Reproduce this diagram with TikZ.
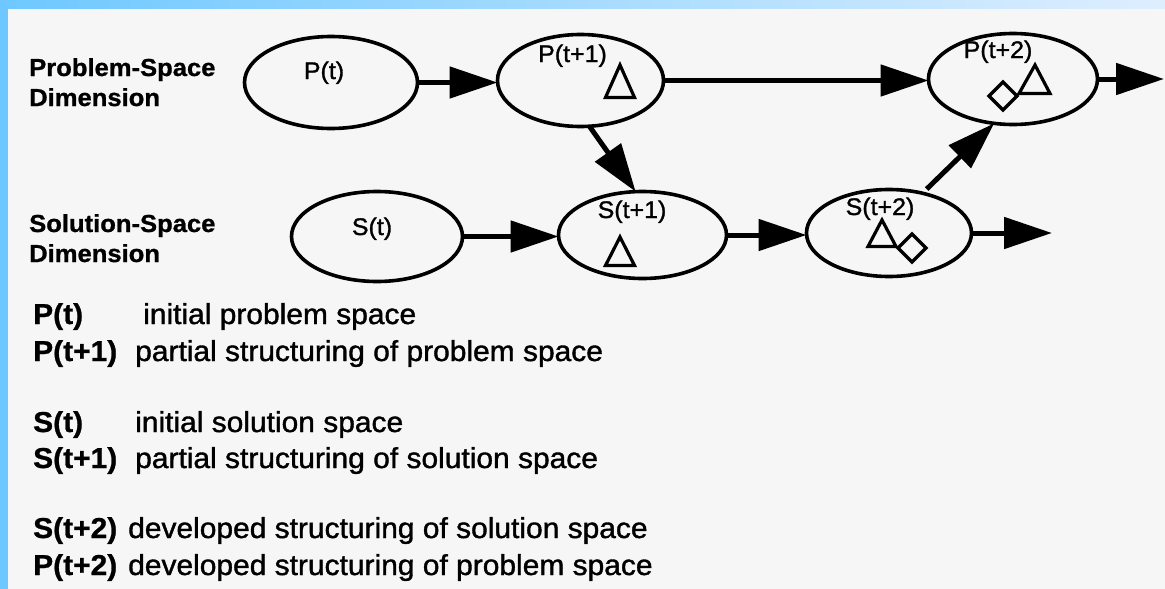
\documentclass[tikz,border=0pt]{standalone}
\usepackage{fontspec}
\setmainfont{Liberation Sans}[FakeStretch=1.04, UprightFeatures={FakeBold=1.3}, BoldFeatures={FakeBold=0.9}]
\usetikzlibrary{shapes.geometric,arrows.meta}
\definecolor{paper}{RGB}{246,246,246}
\definecolor{frameL}{RGB}{110,200,255}
\definecolor{frameR}{RGB}{222,238,255}
\tikzset{
  ell/.style={ellipse, draw=black, line width=3.6pt, inner sep=0pt, outer sep=0pt},
  conn/.style={line width=5pt, -{Triangle[length=48pt,width=31pt]}},
  dimlabel/.style={font=\fontsize{24.6}{28}\selectfont\bfseries, anchor=base west, inner sep=0pt},
  nodelabel/.style={font=\fontsize{24}{27}\selectfont, anchor=base, inner sep=0pt},
  keylabel/.style={font=\fontsize{28.8}{32}\selectfont\bfseries, anchor=base west, inner sep=0pt},
  desclabel/.style={font=\fontsize{28.8}{32}\selectfont, anchor=base west, inner sep=0pt},
  glyph/.style={line width=3.2pt, line join=miter},
}
\begin{document}
\begin{tikzpicture}[x=1pt,y=-1pt]
\useasboundingbox (0,0) rectangle (1165,589);
% background and frame
\fill[paper] (0,0) rectangle (1165,589);
\fill[frameL] (0,0) rectangle (8,589);
\shade[left color=frameL, right color=frameR] (0,0) rectangle (1165,8);

% dimension labels
\node[dimlabel] (psd1) at (29,76) {Problem-Space};
\node[dimlabel] (psd2) at (29,106) {Dimension};
\node[dimlabel] (ssd1) at (29,232) {Solution-Space};
\node[dimlabel] (ssd2) at (29,262) {Dimension};

% ellipses
\node[ell, minimum width=173pt, minimum height=92pt] (pt) at (331,82.5) {};
\node[ell, minimum width=171pt, minimum height=90pt] (st) at (377,236.5) {};
\node[ell, minimum width=166pt, minimum height=92pt] (p1) at (580.5,80.5) {};
\node[ell, minimum width=168pt, minimum height=87pt] (s1) at (642.5,235) {};
\node[ell, minimum width=165pt, minimum height=87pt] (s2) at (889,233) {};
\node[ell, minimum width=169pt, minimum height=91pt] (p2) at (1013,79) {};

% ellipse labels
\node[nodelabel] (ptl) at (324,79) {P(t)};
\node[nodelabel] (stl) at (372,235) {S(t)};
\node[nodelabel] (p1l) at (572.5,62) {P(t+1)};
\node[nodelabel] (s1l) at (632,218) {S(t+1)};
\node[nodelabel] (s2l) at (880,215) {S(t+2)};
\node[nodelabel] (p2l) at (998,58) {P(t+2)};

% glyphs
\draw[glyph] (620,65) -- (605.5,97.5) -- (634.5,97.5) -- cycle;
\draw[glyph] (620,237) -- (605.5,265.5) -- (634.5,265.5) -- cycle;
\draw[glyph] (882,220) -- (868,246.5) -- (896,246.5) -- cycle;
\draw[glyph] (912,234) -- (926,248) -- (912,262) -- (898,248) -- cycle;
\draw[glyph] (1003,82) -- (1017,96) -- (1003,110) -- (989,96) -- cycle;
\draw[glyph] (1035,65) -- (1019,93.5) -- (1050,93.5) -- cycle;

% connectors
\coordinate (pend) at (1164,79);
\coordinate (send) at (1052,236);
\draw[conn] (pt.east) -- (pt.east -| p1.west);
\draw[conn] (st.east) -- (st.east -| s1.west);
\draw[conn] (p1.east) -- (p1.east -| p2.west);
\draw[conn] (s1.east) -- (s1.east -| s2.west);
\draw[conn] (p1.-79) -- (s1.99);
\draw[conn, shorten <=6pt] (s2.50) -- (p2.-113);
\draw[conn] (p2.east) -- (pend);
\draw[conn] (s2.east) -- (s2.east -| send);

% legend
\node[keylabel] (k1) at (33,324) {P(t)};
\node[desclabel] (d1) at (143,324) {initial problem space};
\node[keylabel] (k2) at (33,361) {P(t+1)};
\node[desclabel] (d2) at (135,361) {partial structuring of problem space};
\node[keylabel] (k3) at (33,432) {S(t)};
\node[desclabel] (d3) at (135,432) {initial solution space};
\node[keylabel] (k4) at (33,468) {S(t+1)};
\node[desclabel] (d4) at (135,468) {partial structuring of solution space};
\node[keylabel] (k5) at (33,538) {S(t+2)};
\node[desclabel] (d5) at (128,538) {developed structuring of solution space};
\node[keylabel] (k6) at (33,575) {P(t+2)};
\node[desclabel] (d6) at (128,575) {developed structuring of problem space};
\end{tikzpicture}
\end{document}
